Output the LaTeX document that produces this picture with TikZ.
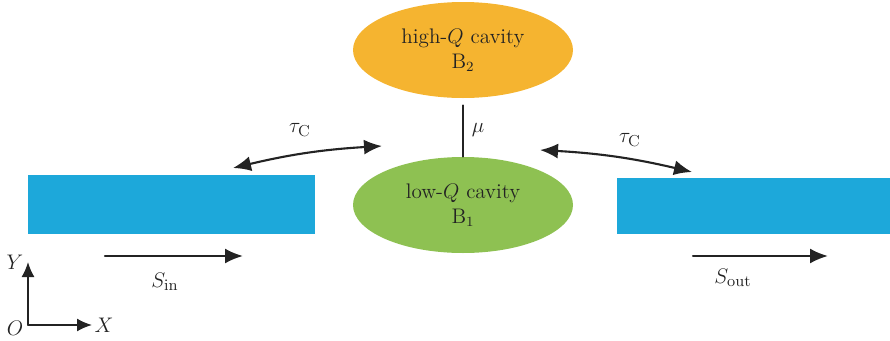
\documentclass[tikz,border=0pt]{standalone}
\usepackage{amsmath,amssymb}
\usepackage{tikz}
\usetikzlibrary{arrows.meta,shapes.geometric}
\definecolor{cavhigh}{RGB}{245,180,48}
\definecolor{cavlow}{RGB}{142,193,82}
\definecolor{guide}{RGB}{29,168,218}
\definecolor{inkdark}{RGB}{35,35,35}
\tikzset{
  cavbase/.style={font=\fontsize{12}{14}\selectfont, line cap=round, line join=round, text=inkdark},
  cavity/.style={ellipse,minimum width=4.4cm,minimum height=1.92cm,inner sep=0pt,align=center},
  guidebox/.style={rectangle,fill=guide,inner sep=0pt},
  symlabel/.style={font=\fontsize{13}{15}\selectfont},
  flowline/.style={draw=inkdark,line width=1.2pt,-{Latex[length=3.6mm,width=3mm]}},
  decayline/.style={draw=inkdark,line width=1.2pt,{Latex[length=3.6mm,width=3mm]}-{Latex[length=3.6mm,width=3mm]}},
  axisline/.style={draw=inkdark,line width=1pt,-{Latex[length=3mm,width=2.6mm]}},
  couple/.style={draw=inkdark,line width=1pt}
}

\begin{document}
\begin{tikzpicture}[cavbase]
\useasboundingbox (0,0) rectangle (17.8,6.8);
% cavities
\node[cavity,fill=cavhigh] (hiq) at (9.26,5.8) {high-$Q$ cavity\\B$_2$};
\node[cavity,fill=cavlow] (loq) at (9.26,2.7) {low-$Q$ cavity\\B$_1$};
\draw[couple,shorten <=0.14cm] (hiq.south) -- (loq.north);
\node[symlabel] (mu) at (9.56,4.2) {$\mu$};
% waveguides
\node[guidebox,minimum width=5.74cm,minimum height=1.18cm] (wgin) at (3.43,2.71) {};
\node[guidebox,minimum width=5.46cm,minimum height=1.12cm] (wgout) at (15.07,2.68) {};
% decay channels
\coordinate (tauLa) at (4.66,3.44);
\coordinate (tauLb) at (7.64,3.88);
\coordinate (tauRa) at (10.8,3.8);
\coordinate (tauRb) at (13.84,3.36);
\draw[decayline] (tauLa) to[bend left=5] (tauLb);
\draw[decayline] (tauRa) to[bend left=5] (tauRb);
\node[symlabel] (tauL) at (6.0,4.2) {$\tau_{\mathrm{C}}$};
\node[symlabel] (tauR) at (12.6,4.0) {$\tau_{\mathrm{C}}$};
% input and output fields
\coordinate (sina) at (2.1,1.68);
\coordinate (sinb) at (4.86,1.68);
\coordinate (souta) at (13.86,1.68);
\coordinate (soutb) at (16.56,1.68);
\draw[flowline] (sina) -- (sinb);
\draw[flowline] (souta) -- (soutb);
\node[symlabel] (sin) at (3.3,1.16) {$S_{\mathrm{in}}$};
\node[symlabel] (sout) at (14.66,1.24) {$S_{\mathrm{out}}$};
% axes
\coordinate (orig) at (0.56,0.3);
\coordinate (yend) at (0.56,1.56);
\coordinate (xend) at (1.84,0.3);
\draw[axisline] (orig) -- (yend);
\draw[axisline] (orig) -- (xend);
\node[symlabel] (ylab) at (0.3,1.56) {$Y$};
\node[symlabel] (olab) at (0.3,0.24) {$O$};
\node[symlabel] (xlab) at (2.08,0.3) {$X$};
\end{tikzpicture}
\end{document}
